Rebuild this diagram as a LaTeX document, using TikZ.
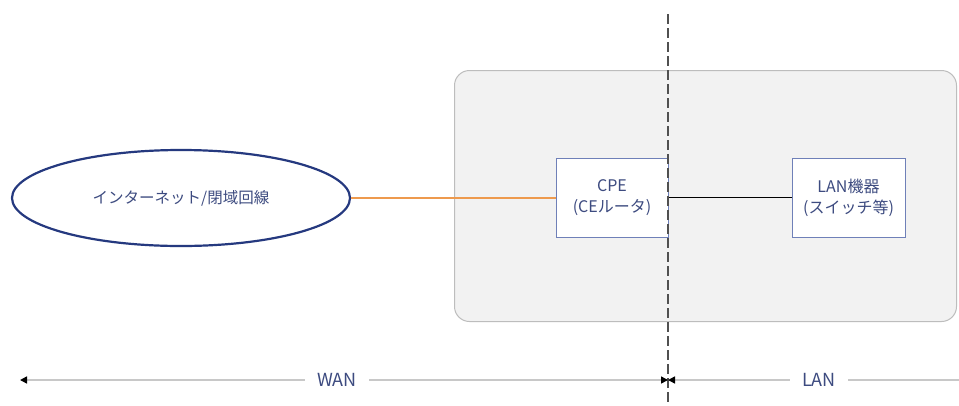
\documentclass[tikz,border=0pt]{standalone}
\usepackage{fontspec}
\setmainfont{Noto Sans CJK JP}
\usetikzlibrary{arrows.meta,shapes.geometric}
\definecolor{txt}{HTML}{3D4B80}
\definecolor{ellb}{HTML}{25397F}
\definecolor{boxb}{HTML}{6F80B8}
\definecolor{orng}{HTML}{EE9A4D}
\definecolor{grayfill}{HTML}{F2F2F2}
\definecolor{grayb}{HTML}{BDBDBD}
\definecolor{rulecol}{HTML}{C8C8C8}
\definecolor{dashcol}{HTML}{505050}
\tikzset{
  blacktri/.tip={Triangle[length=7pt,width=7pt,color=black,fill=black]},
  lbl/.style={text=txt, font=\fontsize{15}{20}\selectfont, align=center},
  devbox/.style={lbl, font=\fontsize{16}{21}\selectfont, draw=boxb, line width=1pt, fill=white, minimum width=112pt, minimum height=79pt, inner sep=0pt},
  spanline/.style={draw=rulecol, line width=1.5pt},
  spanlbl/.style={lbl, fill=white, inner xsep=12pt, inner ysep=2pt, font=\fontsize{18}{20}\selectfont}
}
\begin{document}
\begin{tikzpicture}[x=1pt,y=-1pt]
\useasboundingbox (0,0) rectangle (959,405);
\node[fill=white, inner sep=0pt, minimum width=959pt, minimum height=405pt, anchor=north west] (bg) at (0,0) {};
% gray zone
\node[draw=grayb, fill=grayfill, line width=1pt, rounded corners=15pt, minimum width=502pt, minimum height=251pt, inner sep=0pt, anchor=north west] (zone) at (454,70) {};
% nodes
\node[draw=ellb, line width=2.2pt, ellipse, fill=white, minimum width=338pt, minimum height=96pt, inner sep=0pt, lbl, font=\fontsize{15.5}{20}\selectfont] (net) at (181,198) {インターネット/閉域回線};
\node[devbox, minimum width=112pt] (cpe) at (612,197.5) {CPE\\(CEルータ)};
\node[devbox, minimum width=113pt] (lan) at (848.5,197.5) {LAN機器\\(スイッチ等)};
% connectors
\draw[orng, line width=2pt] (net.east |- cpe.west) -- (cpe.west);
\draw[black, line width=1.2pt] (cpe.east) -- (lan.west);
% boundary
\coordinate (dtop) at (668,14);
\coordinate (dbot) at (668,405);
\draw[dashcol, line width=2.5pt, dash pattern=on 10pt off 4pt] (dtop) -- (dbot);
% WAN / LAN spans
\coordinate (wl) at (20,380);
\coordinate (mid) at (668,380);
\coordinate (lr) at (959,380);
\draw[spanline, blacktri-blacktri] (wl) -- (mid);
\draw[spanline, blacktri-] (mid) -- (lr);
\node[spanlbl] (wan) at (337,380) {WAN};
\node[spanlbl] (lanlbl) at (819,380) {LAN};
\end{tikzpicture}
\end{document}
